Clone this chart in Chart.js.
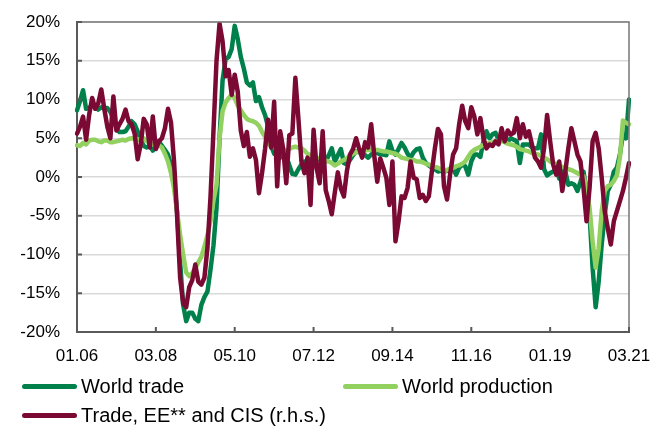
<!DOCTYPE html>
<html lang="en">
<head>
<meta charset="UTF-8">
<title>World trade and production</title>
<script src="https://cdn.jsdelivr.net/npm/chart.js"></script>
<style>
  body { margin: 0; background: #fff; font-family: "Liberation Sans", Arial, sans-serif; }
  #wrap { position: relative; width: 654px; height: 426px; overflow: hidden; }
  #wrap canvas { position: absolute; left: 0; top: 0; }
  .item { position: absolute; font-size: 20px; color: #000; white-space: nowrap; line-height: 20px; }
  .swatch { display: inline-block; width: 55px; height: 5px; border-radius: 3px; vertical-align: middle; margin-right: 4px; position: relative; top: -1px; }
</style>
</head>
<body>
<div id="wrap">
  <canvas id="tradeChart" width="654" height="426"></canvas>
  <div class="item" style="left:22px; top:376px;"><span class="swatch" style="background:#00804a"></span>World trade</div>
  <div class="item" style="left:343px; top:376px;"><span class="swatch" style="background:#92d060"></span>World production</div>
  <div class="item" style="left:22px; top:405px;"><span class="swatch" style="background:#7a0a33"></span>Trade, EE** and CIS (r.h.s.)</div>
</div>

<script>
// monthly, 01.2006 - 03.2021, y/y %
var tickLabels = ['01.06', '03.08', '05.10', '07.12', '09.14', '11.16', '01.19', '03.21'];

var worldTrade = [
    8.6, 9.8, 11.2, 8.8, 8.9, 9.3, 9.2, 8.7, 9.0, 8.8, 8.9, 8.4,
    7.5, 6.3, 5.8, 5.8, 5.9, 6.5, 7.2, 6.8, 5.9, 4.8, 4.0, 3.8,
    4.1, 3.4, 4.5, 4.6, 4.0, 3.5, 2.9, 1.5, -0.5, -4.5, -11.0, -16.5,
    -18.6, -17.5, -17.5, -18.3, -18.6, -16.5, -15.5, -14.8, -12.0, -8.8, -4.0, 5.0,
    12.5, 15.2, 15.5, 16.5, 19.5, 17.8, 15.5, 14.0, 12.2, 11.8, 12.2, 9.8,
    10.3, 9.0, 8.0, 6.5, 4.0, 3.0, 3.5, 2.5, 2.9, 2.6, 1.5, 0.4,
    0.3, 1.0, 1.6, 2.0, 2.0, 2.5, 2.0, 2.2, 2.4, 2.5, 2.0, 2.8,
    3.7, 2.0, 2.8, 3.6, 1.8, 1.6, 2.2, 2.8, 3.3, 3.2, 3.3, 2.8,
    2.5, 2.9, 3.3, 3.1, 2.9, 2.9, 2.8, 4.6, 3.4, 2.9, 3.6, 4.4,
    3.8, 3.0, 2.5, 3.2, 3.6, 3.7, 2.5, 1.8, 1.5, 1.2, 1.0, 0.7,
    0.8, 0.7, 0.8, 0.8, 1.0, 0.3, 1.2, 1.6, 1.4, 0.3, 2.0, 2.9,
    2.9, 2.6, 4.6, 5.9, 5.0, 5.5, 5.7, 4.8, 5.3, 4.6, 4.6, 5.0,
    4.8, 4.6, 1.8, 4.2, 4.2, 4.2, 3.8, 3.7, 3.7, 5.5, 1.0, 0.2,
    0.5, 0.7, 1.2, -0.2, 0.7, 0.7, -1.0, -0.8, -1.0, -1.8, -0.6, 0.7,
    -1.8, -4.9, -11.7, -16.8, -13.5, -8.7, -4.9, -1.8, -1.0, 0.7, 1.2, 2.9,
    5.5, 5.0, 10.0
];

var worldProduction = [
    4.1, 4.0, 4.4, 4.2, 4.7, 4.8, 4.8, 4.6, 4.5, 4.7, 4.7, 4.5,
    4.5, 4.6, 4.7, 4.8, 4.7, 4.9, 5.0, 4.9, 4.8, 4.9, 5.0, 4.6,
    4.4, 4.2, 4.2, 4.1, 3.8, 3.0, 2.0, 0.5, -1.5, -4.5, -7.5, -10.0,
    -12.3, -12.8, -12.4, -11.8, -11.0, -10.3, -9.0, -7.5, -5.7, -3.0, -1.0, 5.0,
    8.5, 9.6, 10.2, 10.6, 10.2, 9.2, 8.6, 8.0, 7.5, 7.3, 7.2, 7.0,
    6.6, 5.8, 5.2, 4.3, 4.0, 3.8, 3.8, 3.7, 3.5, 3.4, 3.6, 3.8,
    3.9, 3.8, 3.7, 3.4, 3.0, 2.8, 2.6, 2.5, 2.4, 2.3, 2.1, 2.0,
    1.8, 1.5, 1.7, 2.0, 2.2, 2.4, 2.7, 3.0, 3.2, 3.4, 3.5, 3.4,
    3.5, 3.5, 3.4, 3.5, 3.4, 3.3, 3.3, 3.2, 3.1, 3.0, 2.8, 2.5,
    2.4, 2.3, 2.2, 2.2, 2.0, 2.0, 1.9, 1.7, 1.6, 1.4, 1.3, 1.2,
    1.0, 0.7, 0.9, 1.1, 1.2, 1.4, 1.5, 1.7, 2.0, 2.6, 3.2, 3.5,
    3.7, 3.9, 4.2, 4.3, 4.4, 4.5, 4.6, 4.7, 4.6, 4.5, 4.3, 4.2,
    4.1, 3.9, 3.6, 3.5, 3.4, 3.3, 3.1, 3.0, 2.9, 2.7, 2.5, 2.3,
    2.0, 1.8, 1.7, 1.5, 1.3, 1.2, 1.0, 0.9, 0.7, 0.5, 0.3, 0.1,
    -1.4, -4.0, -8.3, -11.7, -9.2, -4.4, -1.8, -1.2, -1.0, -0.5, 0.2, 2.5,
    7.3, 7.0, 6.8
];

var tradeEeCis = [
    5.6, 6.5, 7.8, 4.8, 8.0, 10.2, 8.8, 9.5, 11.3, 8.8, 6.5, 5.0,
    10.4, 6.0, 6.8, 7.5, 8.7, 7.2, 6.8, 5.6, 2.3, 4.2, 7.5, 6.8,
    3.8, 7.8, 3.6, 4.6, 5.0, 6.3, 8.8, 7.0, 2.0, -5.0, -13.0, -16.3,
    -16.8, -14.2, -13.3, -11.3, -13.5, -13.9, -13.0, -9.2, -2.7, 6.0, 15.0, 19.8,
    17.5, 13.0, 13.8, 10.6, 13.2, 11.0, 6.0, 4.0, 5.8, 2.6, 3.7, 2.2,
    -2.1, 0.5, 3.6, 7.4, 3.8, 9.7, -1.2, 5.9, 3.6, -0.8, 5.4, 5.6,
    12.8, 7.5, 2.0, 0.5, 2.5, -3.6, 6.1, 1.2, -0.8, 5.9, -1.7, -3.1,
    -4.8, -2.0, 0.6, -1.5, -2.5, 0.8, 2.9, 3.6, 5.0, 3.7, 2.5, 4.5,
    3.8, 6.8, 2.8, -0.6, 2.4, 1.2, -0.1, -3.6, 2.0, -8.3, -5.8, -2.5,
    -2.7, -1.4, 2.0, -0.1, -0.3, -2.7, -2.3, -3.1, -2.5, 0.7, 3.7, 6.2,
    5.5, -1.2, -2.9, 0.3, 2.9, 3.7, 6.8, 9.2, 7.2, 6.3, 9.0, 7.8,
    5.5, 7.6, 5.0, 3.7, 4.2, 4.0, 4.6, 4.2, 6.3, 4.6, 6.0, 5.5,
    5.7, 7.6, 5.0, 6.8, 5.2, 5.9, 4.2, 2.5, 2.0, 1.2, 3.7, 8.0,
    4.6, 1.6, 0.3, 2.0, -1.8, 0.7, 3.7, 6.3, 4.6, 2.9, 2.0, -1.4,
    -5.7, -1.4, 4.6, 5.7, 3.7, -0.1, -4.4, -6.6, -8.7, -5.7, -4.4, -3.1,
    -1.8, -0.1, 1.8
];

// month labels MM.YY
var months = [];
for (var k = 0; k < worldTrade.length; k++) {
    var m = k % 12 + 1;
    var y = 6 + Math.floor(k / 12);
    months.push((m < 10 ? '0' : '') + m + '.' + (y < 10 ? '0' : '') + y);
}

var axisColor = '#595959';

// frame on top/right and small inward tick marks
var framePlugin = {
    id: 'framePlugin',
    afterDraw: function (chart) {
        var c = chart.ctx, a = chart.chartArea;
        var xs = chart.scales.x, ys = chart.scales.y;
        c.save();
        c.strokeStyle = '#777';
        c.lineWidth = 1.5;
        c.beginPath();
        c.moveTo(a.left, a.top);
        c.lineTo(a.right, a.top);
        c.lineTo(a.right, a.bottom);
        c.stroke();
        c.strokeStyle = axisColor;
        c.lineWidth = 2;
        c.beginPath();
        for (var i = 0; i < months.length; i++) {
            if (tickLabels.indexOf(months[i]) < 0) continue;
            var px = xs.getPixelForValue(i);
            c.moveTo(px, a.bottom);
            c.lineTo(px, a.bottom - 5);
        }
        ys.ticks.forEach(function (t) {
            var py = ys.getPixelForValue(t.value);
            c.moveTo(a.left, py);
            c.lineTo(a.left + 5, py);
        });
        c.stroke();
        c.restore();
    }
};

Chart.defaults.font.family = '"Liberation Sans", Arial, sans-serif';
Chart.defaults.font.size = 17;
Chart.defaults.color = '#000';

var ctx = document.getElementById('tradeChart').getContext('2d');
var tradeChart = new Chart(ctx, {
    type: 'line',
    data: {
        labels: months,
        datasets: [{
            label: 'Trade, EE** and CIS (r.h.s.)',
            data: tradeEeCis,
            borderColor: '#7a0a33',
            order: 1
        }, {
            label: 'World production',
            data: worldProduction,
            borderColor: '#92d060',
            order: 2
        }, {
            label: 'World trade',
            data: worldTrade,
            borderColor: '#00804a',
            order: 3
        }]
    },
    options: {
        responsive: false,
        animation: false,
        layout: { padding: { top: 22, right: 25, left: 0, bottom: 34 } },
        elements: {
            line: { borderWidth: 4.5, tension: 0, borderJoinStyle: 'round', borderCapStyle: 'round' },
            point: { radius: 0 }
        },
        plugins: {
            legend: { display: false },
            tooltip: { enabled: false }
        },
        scales: {
            x: {
                grid: { display: false, drawTicks: false },
                border: { display: true, color: axisColor, width: 2 },
                ticks: {
                    autoSkip: false,
                    maxRotation: 0,
                    minRotation: 0,
                    padding: 14,
                    callback: function (value) {
                        var l = this.getLabelForValue(value);
                        return tickLabels.indexOf(l) >= 0 ? l : '';
                    }
                },
                afterFit: function (scale) {
                    scale.height = 60;
                    scale.paddingLeft = 0;
                    scale.paddingRight = 0;
                }
            },
            y: {
                min: -20,
                max: 20,
                grid: { color: '#d9d9d9', lineWidth: 1.5, drawTicks: false },
                border: { display: true, color: axisColor, width: 2 },
                ticks: {
                    stepSize: 5,
                    padding: 17,
                    callback: function (v) { return v + '%'; }
                },
                afterFit: function (scale) {
                    scale.width = 77;
                    scale.paddingTop = 0;
                    scale.paddingBottom = 0;
                }
            }
        }
    },
    plugins: [framePlugin]
});
</script>
</body>
</html>
